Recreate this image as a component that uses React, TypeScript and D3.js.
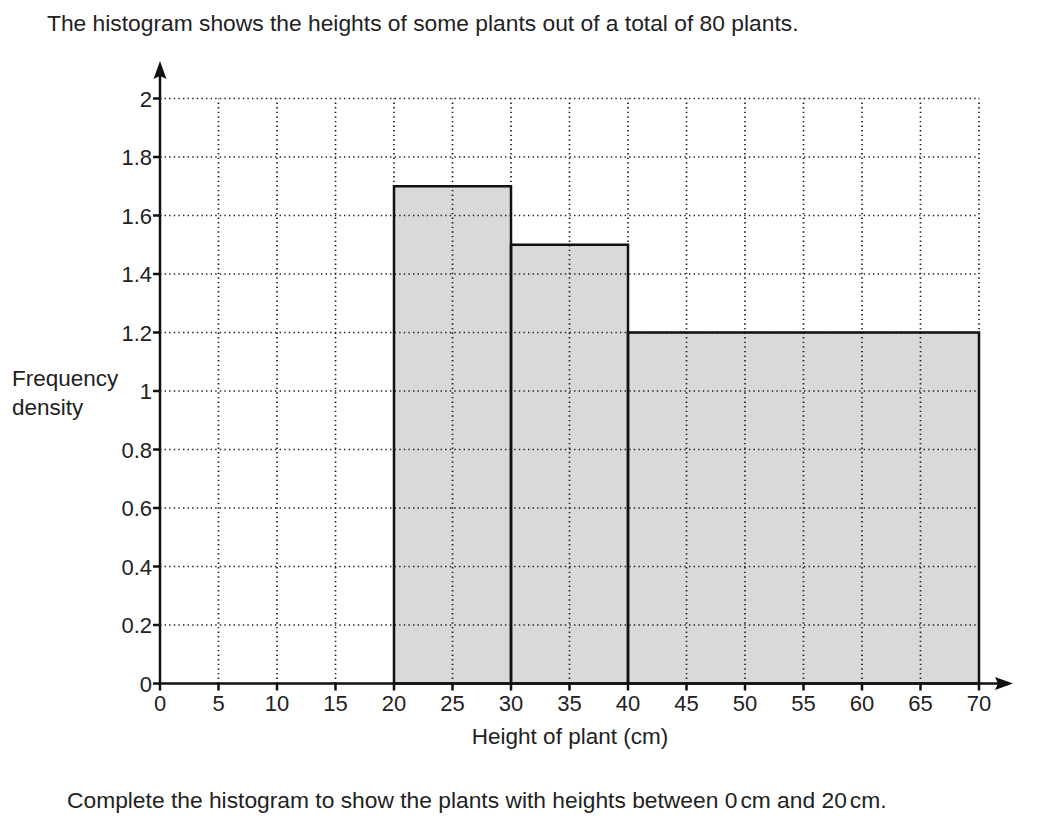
import React from "react";
import * as d3 from "d3";

const binStarts = [20, 30, 40];
const binEnds = [30, 40, 70];
const densities = [1.7, 1.5, 1.2];
const xTicks = [0, 5, 10, 15, 20, 25, 30, 35, 40, 45, 50, 55, 60, 65, 70];
const yTicks = [0, 0.2, 0.4, 0.6, 0.8, 1, 1.2, 1.4, 1.6, 1.8, 2];
const yTickLabels = ["0", "0.2", "0.4", "0.6", "0.8", "1", "1.2", "1.4", "1.6", "1.8", "2"];

export default function App() {
  const W = 1052, H = 839;
  const x = d3.scaleLinear().domain([0, 70]).range([160, 979]);
  const y = d3.scaleLinear().domain([0, 2]).range([683.5, 98.5]);
  const font = "Liberation Sans, Arial, sans-serif";
  const bars = binStarts.map((s, i) => ({ s, e: binEnds[i], d: densities[i] }));
  return (
    <svg width={W} height={H} style={{ position: "absolute", left: 0, top: 0, background: "#fff" }}>
      <rect x={0} y={0} width={W} height={H} fill="#fff" />
      {bars.map((b, i) => (
        <rect key={"f" + i} x={x(b.s)} y={y(b.d)} width={x(b.e) - x(b.s)} height={y(0) - y(b.d)} fill="#d9d9d9" />
      ))}
      {xTicks.filter(t => t > 0).map(t => (
        <line key={"gx" + t} x1={x(t)} x2={x(t)} y1={y(0)} y2={y(2)} stroke="#222" strokeWidth={1.7} strokeDasharray="1.4,3.2" />
      ))}
      {yTicks.filter(t => t > 0).map(t => (
        <line key={"gy" + t} x1={x(0)} x2={x(70)} y1={y(t)} y2={y(t)} stroke="#222" strokeWidth={1.7} strokeDasharray="1.4,3.2" />
      ))}
      {bars.map((b, i) => (
        <rect key={"o" + i} x={x(b.s)} y={y(b.d)} width={x(b.e) - x(b.s)} height={y(0) - y(b.d)} fill="none" stroke="#111" strokeWidth={2.5} />
      ))}
      <line x1={x(0)} x2={1000} y1={y(0)} y2={y(0)} stroke="#111" strokeWidth={2.5} />
      <polygon points={`1013,${y(0)} 995,${y(0) - 6.5} 998,${y(0)} 995,${y(0) + 6.5}`} fill="#111" />
      <line x1={x(0)} x2={x(0)} y1={y(0)} y2={75} stroke="#111" strokeWidth={2.5} />
      <polygon points={`${x(0)},61 ${x(0) - 6.5},79 ${x(0)},76 ${x(0) + 6.5},79`} fill="#111" />
      {yTicks.map((t, i) => (
        <g key={"yt" + t}>
          <line x1={x(0) - 7} x2={x(0)} y1={y(t)} y2={y(t)} stroke="#111" strokeWidth={2.5} />
          <text x={x(0) - 8} y={y(t) + 8} textAnchor="end" fontFamily={font} fontSize={22} fill="#222">{yTickLabels[i]}</text>
        </g>
      ))}
      {xTicks.map(t => (
        <g key={"xt" + t}>
          <line x1={x(t)} x2={x(t)} y1={y(0)} y2={y(0) + 7} stroke="#111" strokeWidth={2.5} />
          <text x={x(t)} y={711} textAnchor="middle" fontFamily={font} fontSize={22} fill="#222">{t}</text>
        </g>
      ))}
      <text x={570} y={744} textAnchor="middle" fontFamily={font} fontSize={22.5} fill="#222">Height of plant (cm)</text>
      <text x={12} y={386} fontFamily={font} fontSize={22.5} fill="#222">Frequency</text>
      <text x={12} y={415} fontFamily={font} fontSize={22.5} fill="#222">density</text>
      <text x={47} y={31} fontFamily={font} fontSize={22.8} fill="#222">The histogram shows the heights of some plants out of a total of 80 plants.</text>
      <text x={67} y={808} fontFamily={font} fontSize={22.8} fill="#222">Complete the histogram to show the plants with heights between 0<tspan dx={3}>cm and 20</tspan><tspan dx={3}>cm.</tspan></text>
    </svg>
  );
}
